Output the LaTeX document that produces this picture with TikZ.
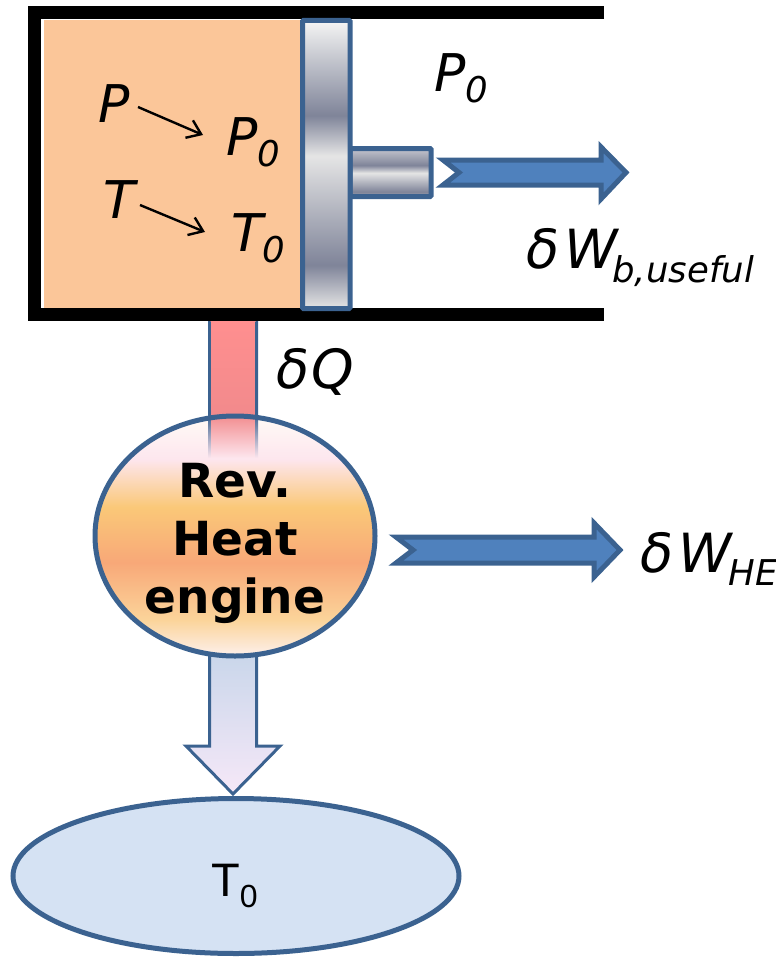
\documentclass[tikz,border=0pt]{standalone}
\usepackage{fontspec}
\setmainfont{DejaVu Sans}
\newfontfamily\obl{DejaVu Sans Oblique}
\newfontfamily\armo{Liberation Sans}
\usetikzlibrary{arrows.meta}
\definecolor{edge}{HTML}{3B6290}
\definecolor{gas}{HTML}{FBC699}
\definecolor{flow}{HTML}{4F81BD}
\definecolor{sink}{HTML}{D5E2F3}
\definecolor{HTMLdark}{HTML}{7F8499}
\definecolor{HTMLlight}{HTML}{E5E5E5}
\definecolor{HTMLmid}{HTML}{C9CBD2}
\definecolor{HTMLtop}{HTML}{F5F5F5}
\definecolor{rodA}{HTML}{C4C6CE}
\definecolor{rodB}{HTML}{9EA1AE}
\definecolor{engA}{HTML}{FFFBF6}
\definecolor{engB}{HTML}{FDE6EE}
\definecolor{engC}{HTML}{FAC878}
\definecolor{engD}{HTML}{F8A878}
\definecolor{engE}{HTML}{FBD49A}
\definecolor{engF}{HTML}{FDF0EC}
\definecolor{hotA}{HTML}{FF8F8F}
\definecolor{hotB}{HTML}{F28A8C}
\definecolor{coldA}{HTML}{C8D6EA}
\definecolor{coldB}{HTML}{F6E8F8}
\pgfdeclareverticalshading{pistonshade}{100bp}{color(0bp)=(HTMLlight);color(25bp)=(HTMLlight);color(32.5bp)=(HTMLdark);color(51.5bp)=(HTMLlight);color(58.5bp)=(HTMLdark);color(69bp)=(HTMLmid);color(75bp)=(HTMLtop);color(100bp)=(HTMLtop)}
\pgfdeclareverticalshading{rodshade}{100bp}{color(0bp)=(rodB);color(25bp)=(rodB);color(30bp)=(HTMLdark);color(49.5bp)=(HTMLlight);color(57.5bp)=(HTMLdark);color(75bp)=(rodA);color(100bp)=(rodA)}
\pgfdeclareverticalshading{engineshade}{100bp}{color(0bp)=(engF);color(25bp)=(engF);color(32.5bp)=(engE);color(44.5bp)=(engD);color(56bp)=(engC);color(66bp)=(engB);color(75bp)=(engA);color(100bp)=(engA)}
\pgfdeclareverticalshading{hotshade}{100bp}{color(0bp)=(engB);color(25bp)=(engB);color(41bp)=(hotB);color(75bp)=(hotA);color(100bp)=(hotA)}
\pgfdeclareverticalshading{hotedge}{100bp}{color(0bp)=(engB);color(25bp)=(engB);color(41bp)=(edge);color(75bp)=(edge);color(100bp)=(edge)}
\pgfdeclareverticalshading{coldshade}{100bp}{color(0bp)=(coldB);color(25bp)=(coldB);color(75bp)=(coldA);color(100bp)=(coldA)}
\tikzset{
  txt/.style={anchor=base west,inner sep=0pt,outer sep=0pt,font=\obl\fontsize{52}{52}\selectfont},
  bigtxt/.style={txt,font=\obl\fontsize{54}{54}\selectfont},
  thin arrow/.style={line width=2.4pt,-{Straight Barb[length=13pt,width=19pt,line width=2.4pt]}},
  flow arrow/.style={draw=edge,fill=flow,line width=5pt,miter limit=8},
  engtext/.style={anchor=base,inner sep=0pt,font=\bfseries\fontsize{47}{47}\selectfont},
}
\newcommand{\subs}[2]{\raisebox{#1pt}{\fontsize{35.5}{35.5}\selectfont #2}}
\begin{document}
\begin{tikzpicture}[x=1pt,y=-1pt]
\useasboundingbox (0,0) rectangle (776,958);
% cylinder
\fill[gas] (44,20.5) rectangle (301,309);
\draw[line width=13pt,line join=miter] (604,13) -- (34.5,13) -- (34.5,314.5) -- (604,314.5);
% rod and piston
\shadedraw[shading=rodshade,draw=edge,line width=5pt,rounded corners=1pt] (350,148.5) rectangle (431,196.5);
\shadedraw[shading=pistonshade,draw=edge,line width=5pt,rounded corners=1pt] (302.5,20.5) rectangle (350,308.5);
% output arrows
\draw[flow arrow] (443,160) -- (459,172.5) -- (443,185) -- (601,185) -- (601,199) -- (626,172.5) -- (601,147) -- (601,160) -- cycle;
\draw[flow arrow] (396,537) -- (413,550) -- (396,563) -- (594,563) -- (594,577) -- (620,550) -- (594,523) -- (594,537) -- cycle;
% cold arrow
\shadedraw[shading=coldshade,draw=edge,line width=3pt] (209.5,650) -- (209.5,746) -- (186,746) -- (233,794) -- (280,746) -- (256.5,746) -- (256.5,650) -- cycle;
% sink
\path[draw=edge,fill=sink,line width=5pt] (236,876) ellipse [x radius=223,y radius=77.5];
\node[anchor=base west,inner sep=0pt,font=\armo\fontsize{47}{47}\selectfont] (sinkT) at (211,896) {T\raisebox{-11pt}{\fontsize{32}{32}\selectfont 0}};
% engine
\shade[shading=engineshade] (235,536) ellipse [x radius=140,y radius=120];
\shade[shading=hotshade] (209,321) rectangle (257,458);
\shade[shading=hotedge] (208,321) rectangle (210.5,458);
\shade[shading=hotedge] (255.5,321) rectangle (258,458);
\draw[edge,line width=5pt] (235,536) ellipse [x radius=140,y radius=120];
\node[engtext] (rev) at (235,497) {Rev.};
\node[engtext] (heat) at (235,555) {Heat};
\node[engtext] (eng) at (235,613) {engine};
% labels
\node[txt] (P) at (98,122) {P};
\node[txt] (Pz) at (226,155) {P\subs{-11}{0}};
\node[txt] (T) at (103,218) {T};
\node[txt] (Tz) at (231,251) {T\subs{-11}{0}};
\node[txt] (Pout) at (434,92) {P\subs{-11}{0}};
\node[bigtxt] (dQ) at (276,388) {δ\kern2pt Q};
\node[bigtxt] (dWb) at (526,268) {δ\kern5pt W\kern-5pt\subs{-14}{b,useful}};
\node[bigtxt] (dWh) at (640,572) {δ\kern5pt W\kern-3pt\subs{-13}{HE}};
\coordinate (p1) at (138,107); \coordinate (p2) at (203,135);
\coordinate (t1) at (140,205); \coordinate (t2) at (205,232);
\draw[thin arrow] (p1) -- (p2);
\draw[thin arrow] (t1) -- (t2);
\end{tikzpicture}
\end{document}
